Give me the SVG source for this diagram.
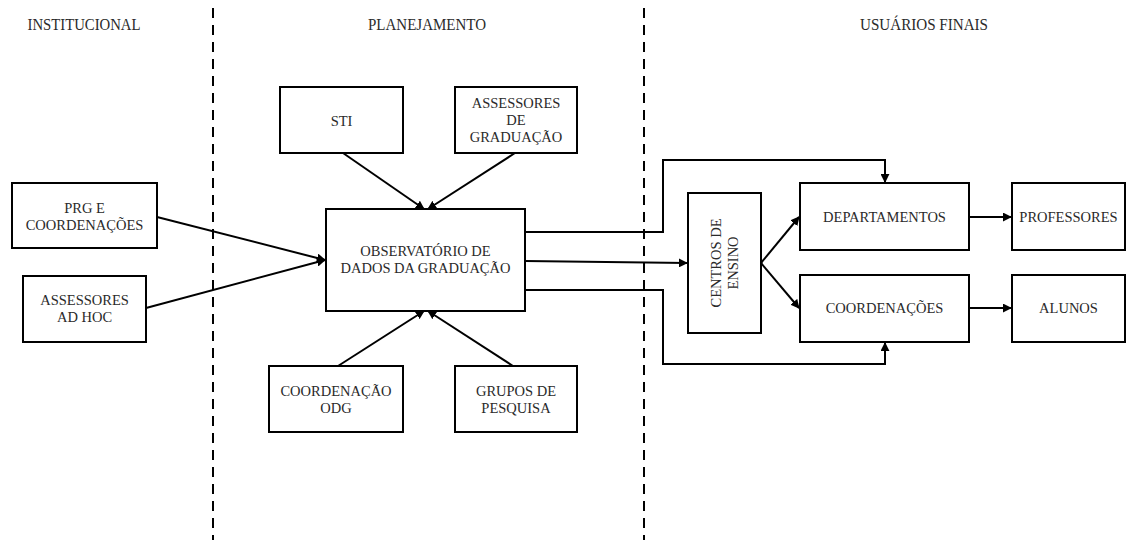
<svg xmlns="http://www.w3.org/2000/svg" width="1127" height="540" viewBox="0 0 1127 540" font-family="'Liberation Serif', 'Times New Roman', serif">
  <style>
    .box { fill: #ffffff; stroke: #000000; stroke-width: 2; }
    .lbl { font-size: 14.5px; fill: #2a2a2a; text-anchor: middle; }
    .hdr { font-size: 16px; fill: #2a2a2a; text-anchor: middle; }
    .lane { stroke: #000000; stroke-width: 2; stroke-dasharray: 10 7; fill: none; }
    .edge { stroke: #000000; stroke-width: 2; fill: none; marker-end: url(#arrow); }
  </style>
  <defs>
    <marker id="arrow" viewBox="0 0 10 10" refX="9" refY="5" markerWidth="4.5" markerHeight="4.5" orient="auto" markerUnits="strokeWidth">
      <path d="M0,0 L10,5 L0,10 z" fill="#000000"/>
    </marker>
  </defs>

  <rect width="1127" height="540" fill="#ffffff"/>

  <!-- swimlane separators and headings (headings are set condensed) -->
  <g id="lanes">
    <line class="lane" x1="213" y1="8" x2="213" y2="540"/>
    <line class="lane" x1="644" y1="8" x2="644" y2="540"/>
    <text class="hdr" x="84" y="30" textLength="113" lengthAdjust="spacingAndGlyphs">INSTITUCIONAL</text>
    <text class="hdr" x="427" y="30" textLength="118" lengthAdjust="spacingAndGlyphs">PLANEJAMENTO</text>
    <text class="hdr" x="924" y="30" textLength="128" lengthAdjust="spacingAndGlyphs">USUÁRIOS FINAIS</text>
  </g>

  <!-- connectors -->
  <g id="connectors">
    <line class="edge" x1="157" y1="217" x2="325" y2="260"/>
    <line class="edge" x1="146" y1="308" x2="325" y2="260"/>
    <line class="edge" x1="343" y1="153" x2="424" y2="209"/>
    <line class="edge" x1="515" y1="153" x2="428" y2="209"/>
    <line class="edge" x1="338" y1="366" x2="424" y2="311"/>
    <line class="edge" x1="513" y1="366" x2="428" y2="311"/>
    <polyline class="edge" points="525,232 663,232 663,160 885,160 885,182"/>
    <line class="edge" x1="525" y1="261" x2="687" y2="263"/>
    <polyline class="edge" points="525,290 663,290 663,364 885,364 885,343"/>
    <line class="edge" x1="761" y1="263" x2="799" y2="217"/>
    <line class="edge" x1="761" y1="263" x2="799" y2="308"/>
    <line class="edge" x1="969" y1="217" x2="1011" y2="217"/>
    <line class="edge" x1="969" y1="308" x2="1011" y2="308"/>
  </g>

  <g id="prg">
    <rect class="box" x="12" y="183" width="145" height="65"/>
    <text class="lbl" x="84.5" y="213">PRG E</text>
    <text class="lbl" x="84.5" y="230">COORDENAÇÕES</text>
  </g>

  <g id="assessores-adhoc">
    <rect class="box" x="23" y="276" width="123" height="66"/>
    <text class="lbl" x="84.5" y="305">ASSESSORES</text>
    <text class="lbl" x="84.5" y="322">AD HOC</text>
  </g>

  <g id="sti">
    <rect class="box" x="280" y="87" width="123" height="66"/>
    <text class="lbl" x="341.5" y="126">STI</text>
  </g>

  <g id="assessores-graduacao">
    <rect class="box" x="455" y="87" width="122" height="66"/>
    <text class="lbl" x="516" y="108">ASSESSORES</text>
    <text class="lbl" x="516" y="125">DE</text>
    <text class="lbl" x="516" y="142">GRADUAÇÃO</text>
  </g>

  <g id="observatorio">
    <rect class="box" x="326" y="209" width="199" height="102"/>
    <text class="lbl" x="425.5" y="256">OBSERVATÓRIO DE</text>
    <text class="lbl" x="425.5" y="273">DADOS DA GRADUAÇÃO</text>
  </g>

  <g id="coordenacao-odg">
    <rect class="box" x="269" y="366" width="134" height="66"/>
    <text class="lbl" x="336" y="396">COORDENAÇÃO</text>
    <text class="lbl" x="336" y="413">ODG</text>
  </g>

  <g id="grupos-pesquisa">
    <rect class="box" x="455" y="366" width="122" height="66"/>
    <text class="lbl" x="516" y="396">GRUPOS DE</text>
    <text class="lbl" x="516" y="413">PESQUISA</text>
  </g>

  <g id="centros-ensino">
    <rect class="box" x="688" y="193" width="73" height="140"/>
    <g transform="translate(724.5,263) rotate(-90)">
      <text class="lbl" x="0" y="-4">CENTROS DE</text>
      <text class="lbl" x="0" y="13">ENSINO</text>
    </g>
  </g>

  <g id="departamentos">
    <rect class="box" x="800" y="183" width="169" height="67"/>
    <text class="lbl" x="884.5" y="222">DEPARTAMENTOS</text>
  </g>

  <g id="coordenacoes">
    <rect class="box" x="800" y="275" width="169" height="67"/>
    <text class="lbl" x="884.5" y="313">COORDENAÇÕES</text>
  </g>

  <g id="professores">
    <rect class="box" x="1012" y="183" width="113" height="67"/>
    <text class="lbl" x="1068.5" y="222">PROFESSORES</text>
  </g>

  <g id="alunos">
    <rect class="box" x="1012" y="275" width="113" height="67"/>
    <text class="lbl" x="1068.5" y="313">ALUNOS</text>
  </g>
</svg>
